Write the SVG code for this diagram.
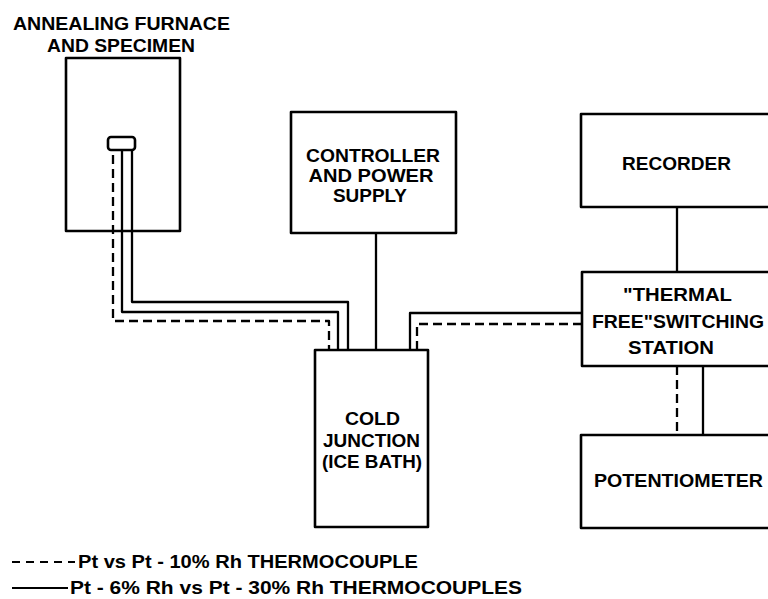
<svg xmlns="http://www.w3.org/2000/svg" width="768" height="599" viewBox="0 0 768 599">
<style>
  .box { fill: none; stroke: #000; stroke-width: 2.6; stroke-linejoin: round; }
  .wire { fill: none; stroke: #000; stroke-width: 2.3; stroke-linejoin: round; }
  .dash { fill: none; stroke: #000; stroke-width: 2.3; stroke-dasharray: 9 5; stroke-linejoin: round; }
  text { font-family: "Liberation Sans", Arial, sans-serif; font-weight: bold; font-size: 18px; fill: #000; }
  .c { text-anchor: middle; }
</style>
<rect width="768" height="599" fill="#fff"/>

<g id="furnace">
  <rect class="box" x="66" y="58" width="114" height="173"/>
  <text class="c" x="121.5" y="30" textLength="217" lengthAdjust="spacingAndGlyphs">ANNEALING FURNACE</text>
  <text class="c" x="121" y="52" textLength="148" lengthAdjust="spacingAndGlyphs">AND SPECIMEN</text>
</g>

<g id="specimen">
  <rect class="box" x="108" y="137" width="27" height="13" rx="3"/>
</g>

<g id="controller">
  <rect class="box" x="291" y="112" width="165" height="121"/>
  <text class="c" x="373" y="162" textLength="134" lengthAdjust="spacingAndGlyphs">CONTROLLER</text>
  <text class="c" x="371" y="182" textLength="125" lengthAdjust="spacingAndGlyphs">AND POWER</text>
  <text class="c" x="370" y="202" textLength="74" lengthAdjust="spacingAndGlyphs">SUPPLY</text>
</g>

<g id="cold-junction">
  <rect class="box" x="315" y="350" width="113" height="177"/>
  <text class="c" x="372.5" y="425" textLength="55" lengthAdjust="spacingAndGlyphs">COLD</text>
  <text class="c" x="371.5" y="447" textLength="97" lengthAdjust="spacingAndGlyphs">JUNCTION</text>
  <text class="c" x="372" y="468" textLength="100" lengthAdjust="spacingAndGlyphs">(ICE BATH)</text>
</g>

<g id="recorder">
  <rect class="box" x="581" y="114" width="220" height="93"/>
  <text class="c" x="676.5" y="170" textLength="109" lengthAdjust="spacingAndGlyphs">RECORDER</text>
</g>

<g id="switching-station">
  <rect class="box" x="582" y="272" width="220" height="94"/>
  <text class="c" x="677.5" y="301" textLength="109" lengthAdjust="spacingAndGlyphs">"THERMAL</text>
  <text class="c" x="678" y="328" textLength="172" lengthAdjust="spacingAndGlyphs">FREE"SWITCHING</text>
  <text class="c" x="671" y="354" textLength="86" lengthAdjust="spacingAndGlyphs">STATION</text>
</g>

<g id="potentiometer">
  <rect class="box" x="581" y="435" width="220" height="93"/>
  <text class="c" x="678.5" y="487" textLength="169" lengthAdjust="spacingAndGlyphs">POTENTIOMETER</text>
</g>

<g id="connectors">
  <!-- furnace to cold junction -->
  <path class="wire" d="M132 150 V302 H348 V350"/>
  <path class="wire" d="M122 150 V312 H338 V350"/>
  <path class="dash" d="M113 155 V321 H329 V350"/>
  <!-- controller to cold junction -->
  <path class="wire" d="M376 233 V350"/>
  <!-- switching station to cold junction -->
  <path class="wire" d="M582 313 H410 V350"/>
  <path class="dash" d="M582 324 H417 V350"/>
  <!-- recorder to switching -->
  <path class="wire" d="M677 207 V272"/>
  <!-- switching to potentiometer -->
  <path class="dash" d="M677 366 V435"/>
  <path class="wire" d="M703 366 V435"/>
</g>

<g id="legend">
  <path fill="none" stroke="#000" stroke-width="2" stroke-dasharray="8 6" d="M12 562 H75"/>
  <text x="78" y="568" textLength="340" lengthAdjust="spacingAndGlyphs">Pt vs Pt - 10% Rh THERMOCOUPLE</text>
  <path fill="none" stroke="#000" stroke-width="2" d="M12 588 H68"/>
  <text x="70" y="594" textLength="452" lengthAdjust="spacingAndGlyphs">Pt - 6% Rh vs Pt - 30% Rh THERMOCOUPLES</text>
</g>
</svg>
